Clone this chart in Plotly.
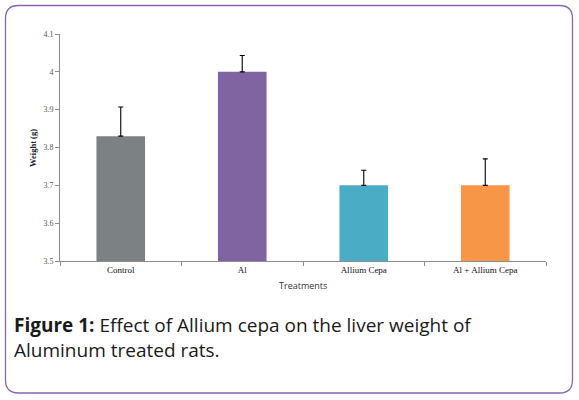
import plotly.graph_objects as go

categories = ["Control", "Al", "Allium Cepa", "Al + Allium Cepa"]
weights = [3.83, 4.00, 3.70, 3.70]
errors = [0.077, 0.043, 0.04, 0.07]
colors = ["#7c8184", "#8064a2", "#4bacc6", "#f79646"]
y_ticks = [3.5, 3.6, 3.7, 3.8, 3.9, 4.0, 4.1]
y_labels = ["3.5", "3.6", "3.7", "3.8", "3.9", "4", "4.1"]

W, H = 579, 400
L, R, T, B = 60, 33, 34, 139
pw, ph = W - L - R, H - T - B

def px(x):
    return (x - L) / pw

def py(y):
    return 1 - (y - T) / ph

fig = go.Figure()
fig.add_trace(go.Bar(
    x=categories, y=weights, marker=dict(color=colors, line=dict(width=0)),
    width=0.4,
    error_y=dict(type="data", array=errors, arrayminus=[0] * len(errors),
                 symmetric=False, color="black", thickness=1.1, width=2.5),
    hoverinfo="skip",
))

# rounded border
x0, y0, x1, y1, r = 5.5, 5.5, 572.5, 393, 13
path = (f"M {px(x0 + r)},{py(y0)} L {px(x1 - r)},{py(y0)} "
        f"Q {px(x1)},{py(y0)} {px(x1)},{py(y0 + r)} "
        f"L {px(x1)},{py(y1 - r)} Q {px(x1)},{py(y1)} {px(x1 - r)},{py(y1)} "
        f"L {px(x0 + r)},{py(y1)} Q {px(x0)},{py(y1)} {px(x0)},{py(y1 - r)} "
        f"L {px(x0)},{py(y0 + r)} Q {px(x0)},{py(y0)} {px(x0 + r)},{py(y0)} Z")
fig.add_shape(type="path", path=path, xref="paper", yref="paper",
              line=dict(color="#8a63ad", width=1.3), layer="below")

fig.add_annotation(text="<b>Figure 1:</b> Effect of Allium cepa on the liver weight of<br>Aluminum treated rats.",
                   xref="paper", yref="paper", x=px(12), y=py(310), xanchor="left", yanchor="top",
                   align="left", showarrow=False,
                   font=dict(family="Open Sans", size=19, color="#1a1a1a"))

fig.add_annotation(text="Treatments", xref="paper", yref="paper", x=0.5, y=py(277),
                   xanchor="center", yanchor="top", showarrow=False,
                   font=dict(family="Open Sans", size=9, color="#333333"))

fig.add_annotation(text="<b>Weight (g)</b>", xref="paper", yref="paper", x=px(33), y=py(148),
                   xanchor="center", yanchor="middle", textangle=-90, showarrow=False,
                   font=dict(family="Liberation Serif", size=8.5, color="#222222"))

fig.update_layout(
    width=W, height=H, margin=dict(l=L, r=R, t=T, b=B),
    paper_bgcolor="white", plot_bgcolor="white", showlegend=False,
    bargap=0.6,
)
fig.update_xaxes(showline=True, linecolor="#8c8c8c", linewidth=1,
                 ticks="outside", tickson="boundaries", ticklen=4, tickcolor="#8c8c8c",
                 tickfont=dict(family="Liberation Serif", size=9, color="#111111"),
                 showgrid=False, zeroline=False)
fig.update_yaxes(range=[3.5, 4.1], tickvals=y_ticks, ticktext=y_labels,
                 showline=True, linecolor="#8c8c8c", linewidth=1,
                 ticks="outside", ticklen=4, tickcolor="#8c8c8c",
                 tickfont=dict(family="Liberation Serif", size=8, color="#555555"),
                 showgrid=False, zeroline=False)

fig.write_html("out.html", config={"displayModeBar": False, "staticPlot": True},
               post_script="document.body.style.margin='0';")
